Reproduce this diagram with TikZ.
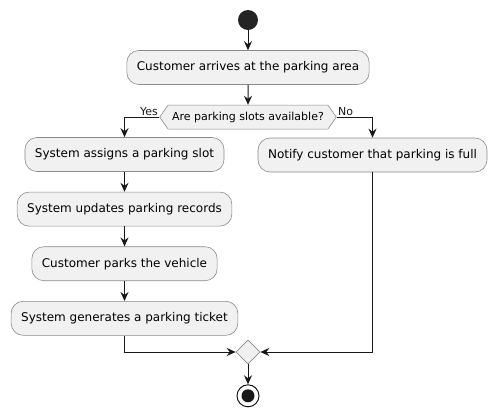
\documentclass[tikz,border=0pt]{standalone}
\usepackage{fontspec}
\setmainfont{DejaVu Sans}
\usepackage{xcolor}
\usepackage{tikz}
\usetikzlibrary{arrows.meta, positioning, shapes.geometric, shapes.symbols}
\definecolor{actfill}{HTML}{F1F1F1}
\definecolor{actline}{HTML}{181818}
\definecolor{actborder}{HTML}{8A8A8A}

\begin{document}
\begin{tikzpicture}[
  x=1pt, y=-1pt,
  node distance=20pt,
  act/.style={rectangle, rounded corners=12pt, draw=actborder, fill=actfill,
              line width=0.6pt, minimum height=34pt, inner xsep=10pt,
              font=\fontsize{12}{14}\selectfont},
  decide/.style={signal, signal to=west and east, signal pointer angle=110,
              draw=actborder, fill=actfill, line width=0.6pt,
              minimum height=24pt, inner xsep=4pt, inner ysep=0pt,
              font=\fontsize{11}{13}\selectfont},
  merger/.style={diamond, aspect=1, draw=actborder, fill=actfill,
              line width=0.6pt, minimum size=24pt, inner sep=0pt},
  lbl/.style={font=\fontsize{11}{13}\selectfont, inner sep=1pt},
  arr/.style={-{Stealth[length=9pt, width=8pt, inset=3pt]}, line width=1pt,
              color=actline},
]
  \useasboundingbox (0,0) rectangle (498,416);
  \node[circle, fill=actline!95, minimum size=20pt, inner sep=0pt] (start) at (248,20) {};
  \node[act, below=of start] (arrive) {Customer arrives at the parking area};
  \node[decide, below=of arrive] (check) {Are parking slots available?};
  \node[act] (assign) at (124.5,154.5) {System assigns a parking slot};
  \node[act, below=of assign] (update) {System updates parking records};
  \node[act, below=of update] (park) {Customer parks the vehicle};
  \node[act, below=of park] (ticket) {System generates a parking ticket};
  \node[act] (notify) at (372.5,155) {Notify customer that parking is full};
  \node[merger] (merge) at (248,352) {};
  \node[circle, draw=actline, fill=white, line width=1pt, minimum size=22pt,
        inner sep=0pt, below=20pt of merge] (stop) {};
  \fill[actline] (stop.center) circle (6.5pt);
  \draw[arr] (start) -- (arrive);
  \draw[arr] (arrive) -- (check);
  \draw[arr] (check.west) -| (assign.north)
    node[lbl, pos=0, anchor=south east] {Yes};
  \draw[arr] (check.east) -| (notify.north)
    node[lbl, pos=0, anchor=south west] {No};
  \draw[arr] (assign) -- (update);
  \draw[arr] (update) -- (park);
  \draw[arr] (park) -- (ticket);
  \draw[arr] (ticket.south) |- (merge.west);
  \draw[arr] (notify.south) |- (merge.east);
  \draw[arr] (merge) -- (stop);
\end{tikzpicture}
\end{document}
